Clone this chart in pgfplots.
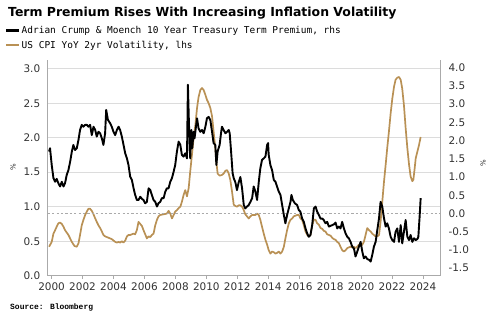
\documentclass[border=0pt]{standalone}
\usepackage{fontspec}
\setmainfont{DejaVu Sans}
\newfontfamily\monofont{DejaVu Sans Mono}
\newfontfamily\srcfont{Liberation Mono}
\usepackage{pgfplots}
\pgfplotsset{compat=1.18}
\definecolor{goldline}{RGB}{185,145,85}
\definecolor{axgray}{RGB}{170,170,170}
\definecolor{gridgray}{RGB}{220,220,220}
\definecolor{ticktext}{RGB}{50,50,50}

\begin{document}
\begin{tikzpicture}
\useasboundingbox (0,0) rectangle (500bp,325bp);
\pgfplotsset{
  common/.style={
    scale only axis, width=392.3bp, height=215.7bp,
    at={(47.7bp,49.3bp)}, anchor=south west,
    xmin=1999.75, xmax=2025.1,
    /pgf/number format/assume math mode=true,
    tick label style={font=\fontsize{10.5}{12}\selectfont, text=ticktext},
    axis line style={draw=axgray, line width=0.8bp, -},
  },
}
\begin{axis}[common,
  ymin=0, ymax=3.126,
  axis x line*=bottom, axis y line*=left,
  xtick={2000,2002,...,2024},
  xticklabel style={/pgf/number format/1000 sep={}, /pgf/number format/fixed, /pgf/number format/precision=0, yshift=-1bp},
  x tick style={draw=axgray, line width=0.8bp},
  tick align=outside, major tick length=3bp,
  ytick={0,0.5,...,3.0},
  y tick style={draw=none},
  yticklabel style={/pgf/number format/fixed, /pgf/number format/fixed zerofill, /pgf/number format/precision=1, xshift=-1bp},
  ymajorgrids, major grid style={draw=gridgray, line width=0.7bp},
  legend style={at={(axis description cs:-0.108,1.162)}, anchor=north west, draw=none, fill=none,
     inner sep=0pt, outer sep=0pt, row sep=3.6bp, font=\fontsize{9.5}{11}\monofont,
     nodes={inner sep=1.2bp}},
  legend cell align=left,
  legend image code/.code={\draw[#1, line width=2.2bp] (0bp,0bp) -- (13bp,0bp);},
]
\addlegendimage{black}
\addlegendentry{Adrian Crump \& Moench 10 Year Treasury Term Premium, rhs}
\addlegendimage{goldline}
\addlegendentry{US CPI YoY 2yr Volatility, lhs}
\addplot[goldline, line width=1.7bp, line join=round] coordinates {
(1999.84,0.42) (2000.01,0.49) (2000.12,0.61) (2000.23,0.66) (2000.33,0.71) (2000.44,0.76)
(2000.55,0.77) (2000.66,0.75) (2000.77,0.71) (2000.87,0.66) (2001.09,0.59) (2001.31,0.49)
(2001.48,0.43) (2001.63,0.42) (2001.74,0.47) (2001.84,0.59) (2001.95,0.73) (2002.06,0.81)
(2002.17,0.88) (2002.28,0.93) (2002.38,0.97) (2002.49,0.97) (2002.60,0.94) (2002.71,0.89)
(2002.82,0.83) (2002.92,0.78) (2003.03,0.73) (2003.14,0.69) (2003.25,0.64) (2003.35,0.59)
(2003.46,0.57) (2003.68,0.55) (2003.89,0.53) (2004.11,0.49) (2004.22,0.48) (2004.33,0.49)
(2004.43,0.48) (2004.54,0.50) (2004.65,0.48) (2004.76,0.51) (2004.87,0.57) (2004.97,0.59)
(2005.08,0.59) (2005.19,0.60) (2005.30,0.61) (2005.40,0.60) (2005.51,0.66) (2005.62,0.78)
(2005.73,0.75) (2005.84,0.72) (2005.94,0.66) (2006.05,0.60) (2006.16,0.54) (2006.27,0.57)
(2006.38,0.56) (2006.48,0.59) (2006.59,0.61) (2006.70,0.73) (2006.81,0.81) (2006.91,0.86)
(2007.02,0.88) (2007.24,0.89) (2007.45,0.90) (2007.56,0.94) (2007.67,0.90) (2007.78,0.83)
(2007.89,0.88) (2007.99,0.93) (2008.10,0.95) (2008.21,0.98) (2008.32,1.00) (2008.42,1.07)
(2008.53,1.17) (2008.64,1.24) (2008.75,1.15) (2008.86,1.27) (2008.96,1.51) (2009.07,1.75)
(2009.18,1.99) (2009.29,2.18) (2009.40,2.43) (2009.50,2.59) (2009.61,2.69) (2009.72,2.72)
(2009.83,2.69) (2009.94,2.62) (2010.04,2.55) (2010.15,2.50) (2010.26,2.43) (2010.37,2.31)
(2010.47,2.09) (2010.58,1.85) (2010.65,1.65) (2010.73,1.48) (2010.86,1.45) (2011.01,1.46)
(2011.12,1.48) (2011.23,1.52) (2011.34,1.53) (2011.45,1.48) (2011.55,1.39) (2011.66,1.22)
(2011.77,1.03) (2011.88,1.01) (2011.98,1.00) (2012.09,1.02) (2012.20,1.02) (2012.31,1.00)
(2012.42,0.95) (2012.52,0.89) (2012.63,0.86) (2012.74,0.83) (2012.85,0.86) (2012.96,0.88)
(2013.06,0.88) (2013.17,0.88) (2013.28,0.90) (2013.39,0.88) (2013.49,0.81) (2013.60,0.71)
(2013.71,0.61) (2013.82,0.52) (2013.93,0.45) (2014.03,0.37) (2014.14,0.32) (2014.25,0.35)
(2014.36,0.34) (2014.47,0.32) (2014.57,0.33) (2014.68,0.35) (2014.79,0.32) (2014.90,0.35)
(2015.01,0.42) (2015.11,0.54) (2015.22,0.66) (2015.33,0.76) (2015.44,0.81) (2015.55,0.83)
(2015.65,0.86) (2015.76,0.87) (2015.87,0.88) (2015.98,0.88) (2016.08,0.83) (2016.19,0.81)
(2016.30,0.73) (2016.41,0.64) (2016.52,0.59) (2016.62,0.57) (2016.73,0.59) (2016.84,0.73)
(2016.95,0.81) (2017.06,0.81) (2017.16,0.76) (2017.27,0.74) (2017.38,0.69) (2017.49,0.68)
(2017.59,0.65) (2017.70,0.64) (2017.81,0.60) (2017.92,0.59) (2018.03,0.58) (2018.13,0.55)
(2018.24,0.53) (2018.35,0.52) (2018.46,0.49) (2018.57,0.47) (2018.67,0.42) (2018.78,0.37)
(2018.89,0.35) (2019.00,0.37) (2019.11,0.40) (2019.21,0.41) (2019.32,0.42) (2019.43,0.41)
(2019.54,0.42) (2019.64,0.40) (2019.75,0.42) (2019.86,0.45) (2019.97,0.43) (2020.08,0.45)
(2020.18,0.49) (2020.29,0.59) (2020.40,0.69) (2020.51,0.66) (2020.62,0.64) (2020.72,0.61)
(2020.83,0.59) (2020.94,0.57) (2021.05,0.57) (2021.16,0.59) (2021.26,0.78) (2021.37,1.07)
(2021.48,1.36) (2021.59,1.61) (2021.69,1.85) (2021.80,2.09) (2021.91,2.35) (2022.02,2.57)
(2022.13,2.74) (2022.23,2.84) (2022.34,2.87) (2022.45,2.88) (2022.56,2.84) (2022.66,2.71)
(2022.77,2.47) (2022.88,2.14) (2022.99,1.85) (2023.10,1.61) (2023.20,1.44) (2023.31,1.37)
(2023.38,1.39) (2023.46,1.55) (2023.53,1.70) (2023.64,1.80) (2023.74,1.89) (2023.85,2.01)
};
\end{axis}
\begin{axis}[common,
  ymin=-1.707, ymax=4.21,
  axis y line*=right, axis x line=none,
  ytick={-1.5,-1.0,...,4.0},
  y tick style={draw=none},
  yticklabel style={/pgf/number format/fixed, /pgf/number format/fixed zerofill, /pgf/number format/precision=1, xshift=5bp},
]
\addplot[axgray, dash pattern=on 2.2bp off 2.2bp, line width=0.8bp, forget plot] coordinates {(1999.75,0) (2025.1,0)};
\addplot[black, line width=1.9bp, line join=round] coordinates {
(1999.84,1.70) (1999.90,1.79) (2000.01,1.33) (2000.12,0.97) (2000.23,0.87) (2000.33,0.95)
(2000.44,0.83) (2000.55,0.74) (2000.66,0.87) (2000.77,0.74) (2000.87,0.83) (2000.98,1.06)
(2001.09,1.19) (2001.20,1.42) (2001.31,1.70) (2001.41,1.88) (2001.52,1.74) (2001.63,1.79)
(2001.74,2.02) (2001.84,2.29) (2001.95,2.43) (2002.06,2.38) (2002.17,2.43) (2002.28,2.43)
(2002.38,2.38) (2002.49,2.43) (2002.60,2.15) (2002.71,2.38) (2002.82,2.29) (2002.92,2.11)
(2003.03,2.24) (2003.14,2.20) (2003.25,2.06) (2003.35,1.88) (2003.46,2.20) (2003.53,2.84)
(2003.64,2.57) (2003.79,2.47) (2003.89,2.38) (2004.00,2.24) (2004.11,2.15) (2004.22,2.29)
(2004.33,2.38) (2004.43,2.29) (2004.54,2.11) (2004.65,1.88) (2004.76,1.65) (2004.87,1.51)
(2004.97,1.33) (2005.08,1.01) (2005.19,0.92) (2005.30,0.69) (2005.40,0.51) (2005.51,0.37)
(2005.62,0.37) (2005.73,0.46) (2005.84,0.40) (2005.94,0.37) (2006.05,0.28) (2006.16,0.32)
(2006.27,0.69) (2006.38,0.64) (2006.48,0.51) (2006.59,0.37) (2006.70,0.32) (2006.81,0.19)
(2006.91,0.28) (2007.02,0.32) (2007.13,0.42) (2007.24,0.42) (2007.35,0.60) (2007.45,0.69)
(2007.56,0.69) (2007.67,0.87) (2007.78,0.97) (2007.89,1.15) (2007.99,1.33) (2008.10,1.70)
(2008.21,1.97) (2008.32,1.88) (2008.42,1.61) (2008.53,1.56) (2008.64,1.65) (2008.75,1.51)
(2008.81,3.53) (2008.88,2.43) (2008.96,1.51) (2009.03,2.29) (2009.09,1.79) (2009.18,2.24)
(2009.24,2.06) (2009.33,2.38) (2009.40,2.61) (2009.50,2.33) (2009.61,2.24) (2009.72,2.29)
(2009.83,2.20) (2009.94,2.38) (2010.04,2.61) (2010.15,2.65) (2010.26,2.56) (2010.37,2.24)
(2010.47,1.93) (2010.58,1.88) (2010.65,1.33) (2010.73,1.70) (2010.86,1.88) (2010.95,2.20)
(2011.01,2.38) (2011.12,2.29) (2011.23,2.20) (2011.34,2.24) (2011.45,2.29) (2011.51,2.20)
(2011.60,1.70) (2011.70,1.10) (2011.77,0.97) (2011.88,0.85) (2011.98,0.64) (2012.09,0.85)
(2012.20,1.00) (2012.31,0.69) (2012.42,0.23) (2012.52,0.14) (2012.63,0.19) (2012.74,0.23)
(2012.85,0.32) (2012.96,0.42) (2013.06,0.74) (2013.17,0.60) (2013.28,0.37) (2013.39,0.87)
(2013.49,1.24) (2013.60,1.47) (2013.71,1.51) (2013.82,1.56) (2013.93,1.88) (2013.99,1.93)
(2014.03,1.61) (2014.14,1.33) (2014.25,1.19) (2014.36,0.92) (2014.47,0.87) (2014.57,0.74)
(2014.68,0.60) (2014.79,0.51) (2014.90,0.23) (2015.01,-0.04) (2015.11,-0.27) (2015.22,-0.04)
(2015.33,0.14) (2015.44,0.32) (2015.50,0.51) (2015.59,0.37) (2015.72,0.28) (2015.87,0.23)
(2015.98,0.09) (2016.08,0.05) (2016.19,-0.14) (2016.30,-0.23) (2016.41,-0.41) (2016.52,-0.55)
(2016.62,-0.64) (2016.73,-0.59) (2016.84,-0.32) (2016.95,0.14) (2017.06,0.19) (2017.16,0.05)
(2017.27,-0.04) (2017.38,-0.14) (2017.49,-0.14) (2017.59,-0.18) (2017.70,-0.27) (2017.81,-0.23)
(2017.92,-0.36) (2018.03,-0.34) (2018.13,-0.32) (2018.24,-0.30) (2018.35,-0.25) (2018.46,-0.41)
(2018.57,-0.36) (2018.67,-0.41) (2018.78,-0.23) (2018.89,-0.41) (2019.00,-0.55) (2019.11,-0.64)
(2019.21,-0.68) (2019.32,-0.78) (2019.43,-0.91) (2019.54,-0.96) (2019.64,-1.18) (2019.75,-1.05)
(2019.86,-0.91) (2019.97,-0.78) (2020.08,-1.05) (2020.18,-1.23) (2020.29,-1.18) (2020.40,-1.25)
(2020.51,-1.27) (2020.62,-1.32) (2020.72,-1.14) (2020.83,-0.91) (2020.94,-0.78) (2021.05,-0.45)
(2021.16,-0.13) (2021.26,0.32) (2021.37,0.19) (2021.48,-0.13) (2021.59,-0.36) (2021.69,-0.27)
(2021.80,-0.41) (2021.91,-0.64) (2022.02,-0.73) (2022.13,-0.78) (2022.23,-0.50) (2022.34,-0.41)
(2022.45,-0.78) (2022.56,-0.32) (2022.66,-0.82) (2022.77,-0.50) (2022.88,-0.18) (2022.99,-0.64)
(2023.10,-0.73) (2023.20,-0.59) (2023.31,-0.78) (2023.42,-0.68) (2023.53,-0.73) (2023.64,-0.70)
(2023.70,-0.64) (2023.79,-0.04) (2023.85,0.42)
};
\end{axis}
\node[anchor=base west, inner sep=0pt, font=\fontsize{12.5}{14}\selectfont\bfseries] at (8bp,308bp) {Term Premium Rises With Increasing Inflation Volatility};
\node[anchor=west, inner sep=0pt, font=\fontsize{8}{9}\srcfont\bfseries] at (10bp,17.3bp) {Source: Bloomberg};
\node[rotate=90, inner sep=0pt, font=\fontsize{7}{8}\selectfont, text=ticktext] at (13bp,158bp) {\%};
\node[rotate=90, inner sep=0pt, font=\fontsize{7}{8}\selectfont, text=ticktext] at (483bp,162bp) {\%};
\end{tikzpicture}
\end{document}
